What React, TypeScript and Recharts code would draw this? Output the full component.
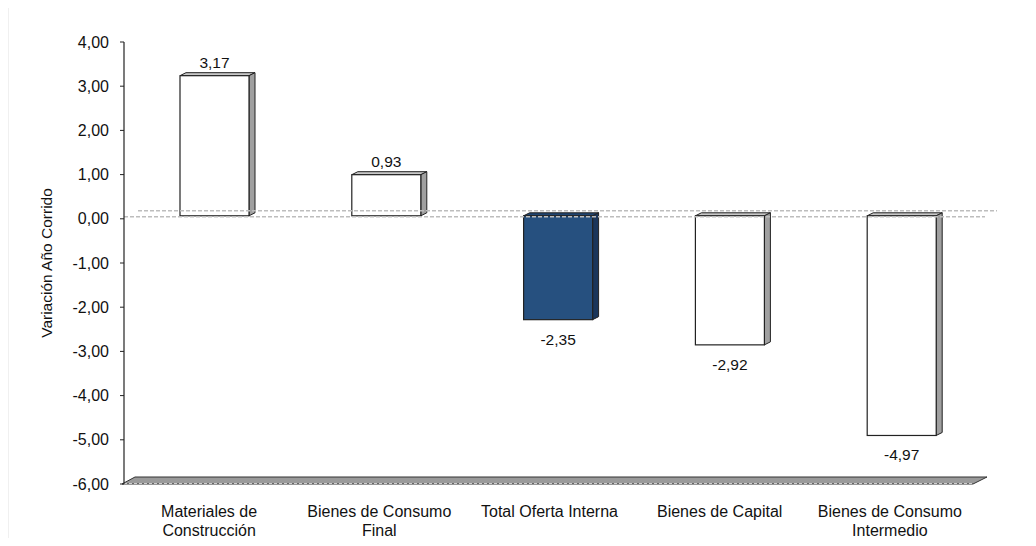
import { BarChart, Bar, XAxis, YAxis, ReferenceLine, LabelList } from "recharts";

// categories (split in lines as printed under the axis)
const categories = [
  "Materiales de Construcción",
  "Bienes de Consumo Final",
  "Total Oferta Interna",
  "Bienes de Capital",
  "Bienes de Consumo Intermedio",
];
const categoryLines = [
  ["Materiales de", "Construcción"],
  ["Bienes de Consumo", "Final"],
  ["Total Oferta Interna"],
  ["Bienes de Capital"],
  ["Bienes de Consumo", "Intermedio"],
];
const values = [3.17, 0.93, -2.35, -2.92, -4.97];
const highlighted = "Total Oferta Interna";
const yTicks = [4, 3, 2, 1, 0, -1, -2, -3, -4, -5, -6];
const yLabel = "Variación Año Corrido";

const data = categories.map((c, i) => ({ name: c, value: values[i] }));

const FONT = "'Liberation Sans', Arial, sans-serif";
const fmt = (v: number) => v.toFixed(2).replace(".", ",");

// 3d look
const DX = 6;
const DY = 3;
const LIFT = 3;
const shiftX = (i: number) => 5 + i * 1.6;

const Bar3D = (props: any) => {
  const { x, y, width, height, index, payload } = props;
  if (x == null || y == null) return null;
  const top = Math.min(y, y + height) - LIFT;
  const h = Math.abs(height);
  const bottom = top + h;
  const left = x + shiftX(index);
  const right = left + width;
  const isHi = payload?.name === highlighted;
  const front = isHi ? "#26507f" : "#ffffff";
  const side = isHi ? "#1a355a" : "#a0a0a0";
  const topFace = isHi ? "#1f4470" : "#c8c8c8";
  const stroke = "#222";
  return (
    <g>
      <polygon
        points={`${left},${top} ${left + DX},${top - DY} ${right + DX},${top - DY} ${right},${top}`}
        fill={topFace}
        stroke={stroke}
        strokeWidth={1}
      />
      <polygon
        points={`${right},${top} ${right + DX},${top - DY} ${right + DX},${bottom - DY} ${right},${bottom}`}
        fill={side}
        stroke={stroke}
        strokeWidth={1}
      />
      <rect x={left} y={top} width={width} height={h} fill={front} stroke={stroke} strokeWidth={1.2} />
    </g>
  );
};

const ValueLabel = (props: any) => {
  const { x, y, width, height, value, index } = props;
  if (x == null || y == null || value == null) return null;
  const top = Math.min(y, y + height) - LIFT;
  const bottom = top + Math.abs(height);
  const cx = x + shiftX(index) + width / 2;
  const ty = value >= 0 ? top - 8 : bottom + 25;
  return (
    <text x={cx} y={ty} textAnchor="middle" fontSize={15.5} fontFamily={FONT} fill="#111">
      {fmt(value)}
    </text>
  );
};

const CategoryTick = (props: any) => {
  const { x, y, index } = props;
  const lines = categoryLines[index] || [];
  return (
    <text x={x} y={y + 25} textAnchor="middle" fontSize={16} fontFamily={FONT} fill="#111">
      {lines.map((l, i) => (
        <tspan key={i} x={x} dy={i === 0 ? 0 : 19}>
          {l}
        </tspan>
      ))}
    </text>
  );
};

const ZeroLines = (props: any) => {
  const { x1, y1, x2 } = props;
  return (
    <g>
      <line x1={x1 + 14} y1={y1 - 8} x2={x2 + 22} y2={y1 - 8} stroke="#bdbdbd" strokeWidth={1.5} strokeDasharray="4 2" />
      <line x1={x1} y1={y1 - 2} x2={x2 + 10} y2={y1 - 2} stroke="#bdbdbd" strokeWidth={1.5} strokeDasharray="4 2" />
    </g>
  );
};

const Floor = (props: any) => {
  const { x1, y1, x2 } = props;
  return (
    <g>
      <polygon
        points={`${x1 - 2},${y1} ${x1 + 11},${y1 - 7} ${x2 + 12},${y1 - 7} ${x2 - 2},${y1}`}
        fill="#9a9a9a"
        stroke="#333"
        strokeWidth={1}
      />
      <line x1={x1} y1={y1 - 0.5} x2={x2 - 2} y2={y1 - 0.5} stroke="#cfcfcf" strokeWidth={1} strokeDasharray="3 2" />
    </g>
  );
};

// chart frame: only the top and left edges fall inside the picture
const Frame = (props: any) => {
  const { y1 } = props;
  return (
    <g>
      <line x1={7} y1={y1} x2={1036} y2={y1} stroke="#c2c2c2" strokeWidth={2.5} />
      <line x1={7} y1={y1} x2={7} y2={546} stroke="#c2c2c2" strokeWidth={2.5} />
    </g>
  );
};

const YTitle = (props: any) => {
  const { viewBox } = props;
  const vx = viewBox?.x ?? 4;
  const vw = viewBox?.width ?? 120;
  const cx = vx + vw - 78;
  const cy = (viewBox?.y ?? 42) + (viewBox?.height ?? 442) / 2;
  return (
    <text
      x={cx}
      y={cy}
      transform={`rotate(-90, ${cx}, ${cy})`}
      textAnchor="middle"
      dominantBaseline="central"
      fontSize={15.5}
      fontFamily={FONT}
      fill="#111"
    >
      {yLabel}
    </text>
  );
};

export default function App() {
  return (
    <div style={{ width: 1036, height: 546, margin: -8, background: "#fff" }}>
      <BarChart width={1036} height={546} data={data} margin={{ top: 42, right: 61, left: 4, bottom: 12 }}>
        <ReferenceLine y={4} ifOverflow="visible" shape={(p: any) => <Frame {...p} y1={4} />} />
        <ReferenceLine y={0} shape={<ZeroLines />} />
        <ReferenceLine y={-6} shape={<Floor />} />
        <XAxis dataKey="name" axisLine={false} tickLine={false} tick={<CategoryTick />} height={50} interval={0} />
        <YAxis
          domain={[-6, 4]}
          ticks={yTicks}
          interval={0}
          width={120}
          tickFormatter={fmt}
          axisLine={{ stroke: "#222", strokeWidth: 1.2 }}
          tickLine={{ stroke: "#222" }}
          tickSize={4}
          tickMargin={11}
          tick={{ fontSize: 16, fontFamily: FONT, fill: "#111" }}
          label={<YTitle />}
        />
        <Bar dataKey="value" barSize={69} shape={<Bar3D />} isAnimationActive={false}>
          <LabelList dataKey="value" content={<ValueLabel />} />
        </Bar>
      </BarChart>
    </div>
  );
}
